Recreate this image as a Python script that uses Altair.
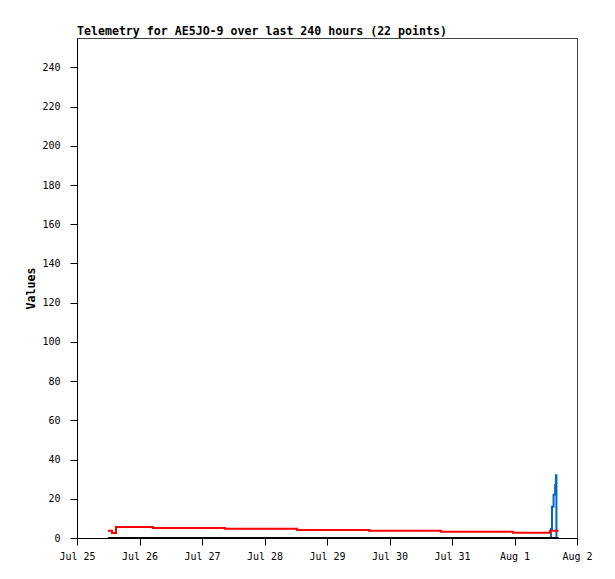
import altair as alt
import pandas as pd

# sample times (local)
times = [
    "2024-07-25T11:54", "2024-07-25T13:26", "2024-07-25T14:59",
    "2024-07-26T05:12", "2024-07-27T08:48", "2024-07-28T12:30",
    "2024-07-29T16:06", "2024-07-30T19:48", "2024-07-31T23:24",
    "2024-08-01T13:36", "2024-08-01T14:00", "2024-08-01T14:24",
    "2024-08-01T15:00", "2024-08-01T15:36", "2024-08-01T15:54",
    "2024-08-01T16:06", "2024-08-01T16:54",
]
black_values = [0, 0, 0, 0, 0, 0, 0, 0, 0, 0, 0, 0, 0, 0, 0, 0, 0]
red_values = [3.7, 2.5, 5.6, 5.1, 4.7, 4.1, 3.7, 3.2, 2.7,
              3.7, 3.7, 3.7, 3.7, 3.7, 3.7, 3.7, 3.7]
blue_values = [0, 0, 0, 0, 0, 0, 0, 0, 0, 0, 4.6, 16, 22, 27, 32, 0, 0]

y_ticks = [0, 20, 40, 60, 80, 100, 120, 140, 160, 180, 200, 220, 240]
x_days = [(7, 25), (7, 26), (7, 27), (7, 28), (7, 29), (7, 30), (7, 31),
          (8, 1), (8, 2)]

title = "Telemetry for AE5JO-9 over last 240 hours (22 points)"
mono = "DejaVu Sans Mono"

df = pd.DataFrame({
    "time": times,
    "black": black_values,
    "red": red_values,
    "blue": blue_values,
})

x_enc = alt.X(
    "time:T",
    title=None,
    scale=alt.Scale(domain=[alt.DateTime(year=2024, month=7, date=25),
                            alt.DateTime(year=2024, month=8, date=2)]),
    axis=alt.Axis(values=[alt.DateTime(year=2024, month=m, date=d) for m, d in x_days],
                  format="%b %-d", labelPadding=6, labelFlush=False,
                  labelOverlap=False),
)


def series(col, color):
    return alt.Chart(df).mark_line(
        color=color, strokeWidth=2, interpolate="step-after"
    ).encode(
        x=x_enc,
        y=alt.Y(col + ":Q", title="Values",
                scale=alt.Scale(domain=[0, 255], nice=False),
                axis=alt.Axis(values=y_ticks, labelPadding=10, titlePadding=5)),
    )


chart = alt.layer(
    series("blue", "#0066cc"),
    series("red", "#ff0000"),
    series("black", "#000000"),
).properties(
    width=500,
    height=500,
    autosize=alt.AutoSizeParams(type="none"),
    padding={"left": 69, "top": 30, "right": 30, "bottom": 33},
    title=alt.TitleParams(title, anchor="start", frame="group", font=mono,
                          fontSize=11.6, fontWeight="bold", color="black", offset=0),
).configure_view(
    stroke="#444444", strokeWidth=1
).configure_axis(
    grid=False,
    domainColor="black",
    tickColor="black",
    tickSize=7,
    labelFont=mono,
    labelFontSize=10,
    labelColor="black",
    titleFont=mono,
    titleFontSize=11.6,
    titleFontWeight="bold",
    titleColor="black",
)

chart.save("out.html", embed_options={"renderer": "svg", "actions": False})
